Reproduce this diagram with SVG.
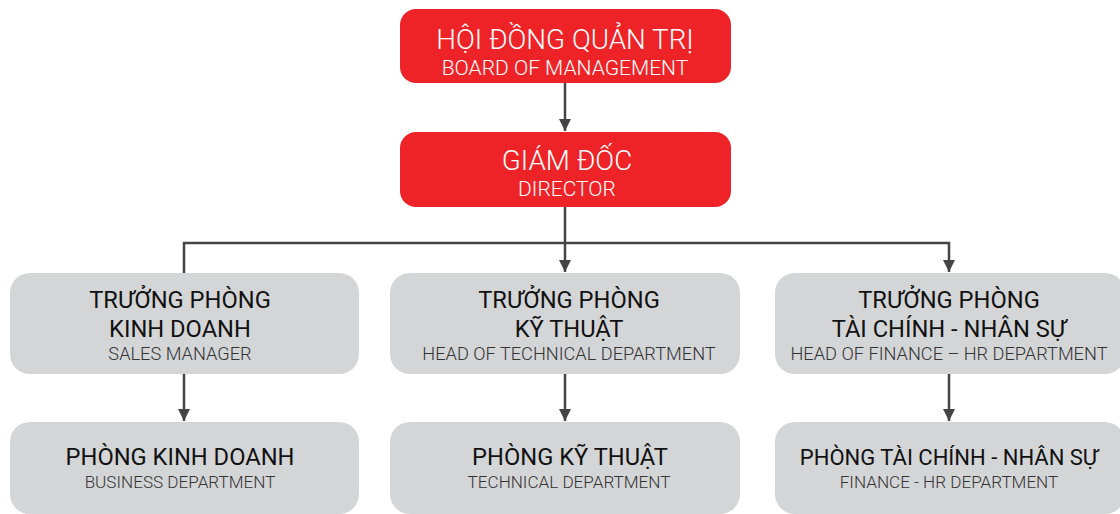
<svg xmlns="http://www.w3.org/2000/svg" width="1120" height="514" viewBox="0 0 1120 514">
<style>
.red{fill:#ed2327}
.gray{fill:#d4d5d7}
.t{font-family:Roboto,"Liberation Sans",sans-serif;text-anchor:middle}
.w1{fill:#fff;font-size:27.8px;font-weight:300}
.w2{fill:#fff;font-size:21px;font-weight:300}
.b1{fill:#111;font-size:23.7px;font-weight:400}
.b2{fill:#333;font-size:18.2px;font-weight:300}
.b3{fill:#333;font-size:17.1px;font-weight:300}
.c{stroke:#444;stroke-width:2.5;fill:none}
</style>
<defs>
<marker id="ah" viewBox="0 0 10 10" refX="10" refY="5" markerWidth="5" markerHeight="5" markerUnits="strokeWidth" orient="auto">
<path d="M0,0 L10,5 L0,10 Z" fill="#444"/>
</marker>
</defs>
<g id="connectors">
<line class="c" x1="565" y1="83" x2="565" y2="131" marker-end="url(#ah)"/>
<line class="c" x1="565" y1="207" x2="565" y2="272" marker-end="url(#ah)"/>
<polyline class="c" points="184,274 184,243 949,243 949,272" marker-end="url(#ah)"/>
<line class="c" x1="184" y1="374" x2="184" y2="421" marker-end="url(#ah)"/>
<line class="c" x1="565" y1="374" x2="565" y2="421" marker-end="url(#ah)"/>
<line class="c" x1="949" y1="374" x2="949" y2="421" marker-end="url(#ah)"/>
</g>
<g id="board">
<rect class="red" x="400" y="9" width="331" height="74" rx="16"/>
<text class="t w1" x="565" y="49">HỘI ĐỒNG QUẢN TRỊ</text>
<text class="t w2" x="565" y="75">BOARD OF MANAGEMENT</text>
</g>
<g id="director">
<rect class="red" x="400" y="132" width="331" height="75" rx="16"/>
<text class="t w1" x="567" y="170">GIÁM ĐỐC</text>
<text class="t w2" x="567" y="196">DIRECTOR</text>
</g>
<g id="sales-manager">
<rect class="gray" x="10" y="273" width="349" height="101" rx="20"/>
<text class="t b1" x="180" y="308">TRƯỞNG PHÒNG</text>
<text class="t b1" x="180" y="337">KINH DOANH</text>
<text class="t b2" x="180" y="360">SALES MANAGER</text>
</g>
<g id="tech-head">
<rect class="gray" x="390" y="273" width="350" height="101" rx="20"/>
<text class="t b1" x="569" y="308">TRƯỞNG PHÒNG</text>
<text class="t b1" x="569" y="337">KỸ THUẬT</text>
<text class="t b2" x="569" y="360">HEAD OF TECHNICAL DEPARTMENT</text>
</g>
<g id="finance-head">
<rect class="gray" x="775" y="273" width="350" height="101" rx="20"/>
<text class="t b1" x="949" y="308">TRƯỞNG PHÒNG</text>
<text class="t b1" x="949" y="337">TÀI CHÍNH - NHÂN SỰ</text>
<text class="t b2" x="949" y="360">HEAD OF FINANCE – HR DEPARTMENT</text>
</g>
<g id="business">
<rect class="gray" x="10" y="422" width="349" height="92" rx="20"/>
<text class="t b1" x="180" y="465">PHÒNG KINH DOANH</text>
<text class="t b3" x="180" y="488">BUSINESS DEPARTMENT</text>
</g>
<g id="technical">
<rect class="gray" x="390" y="422" width="350" height="92" rx="20"/>
<text class="t b1" x="570" y="465">PHÒNG KỸ THUẬT</text>
<text class="t b3" x="569" y="488">TECHNICAL DEPARTMENT</text>
</g>
<g id="finance">
<rect class="gray" x="775" y="422" width="350" height="92" rx="20"/>
<text class="t b1" x="949" y="465" style="font-size:22px">PHÒNG TÀI CHÍNH - NHÂN SỰ</text>
<text class="t b3" x="949" y="488">FINANCE - HR DEPARTMENT</text>
</g>
</svg>
